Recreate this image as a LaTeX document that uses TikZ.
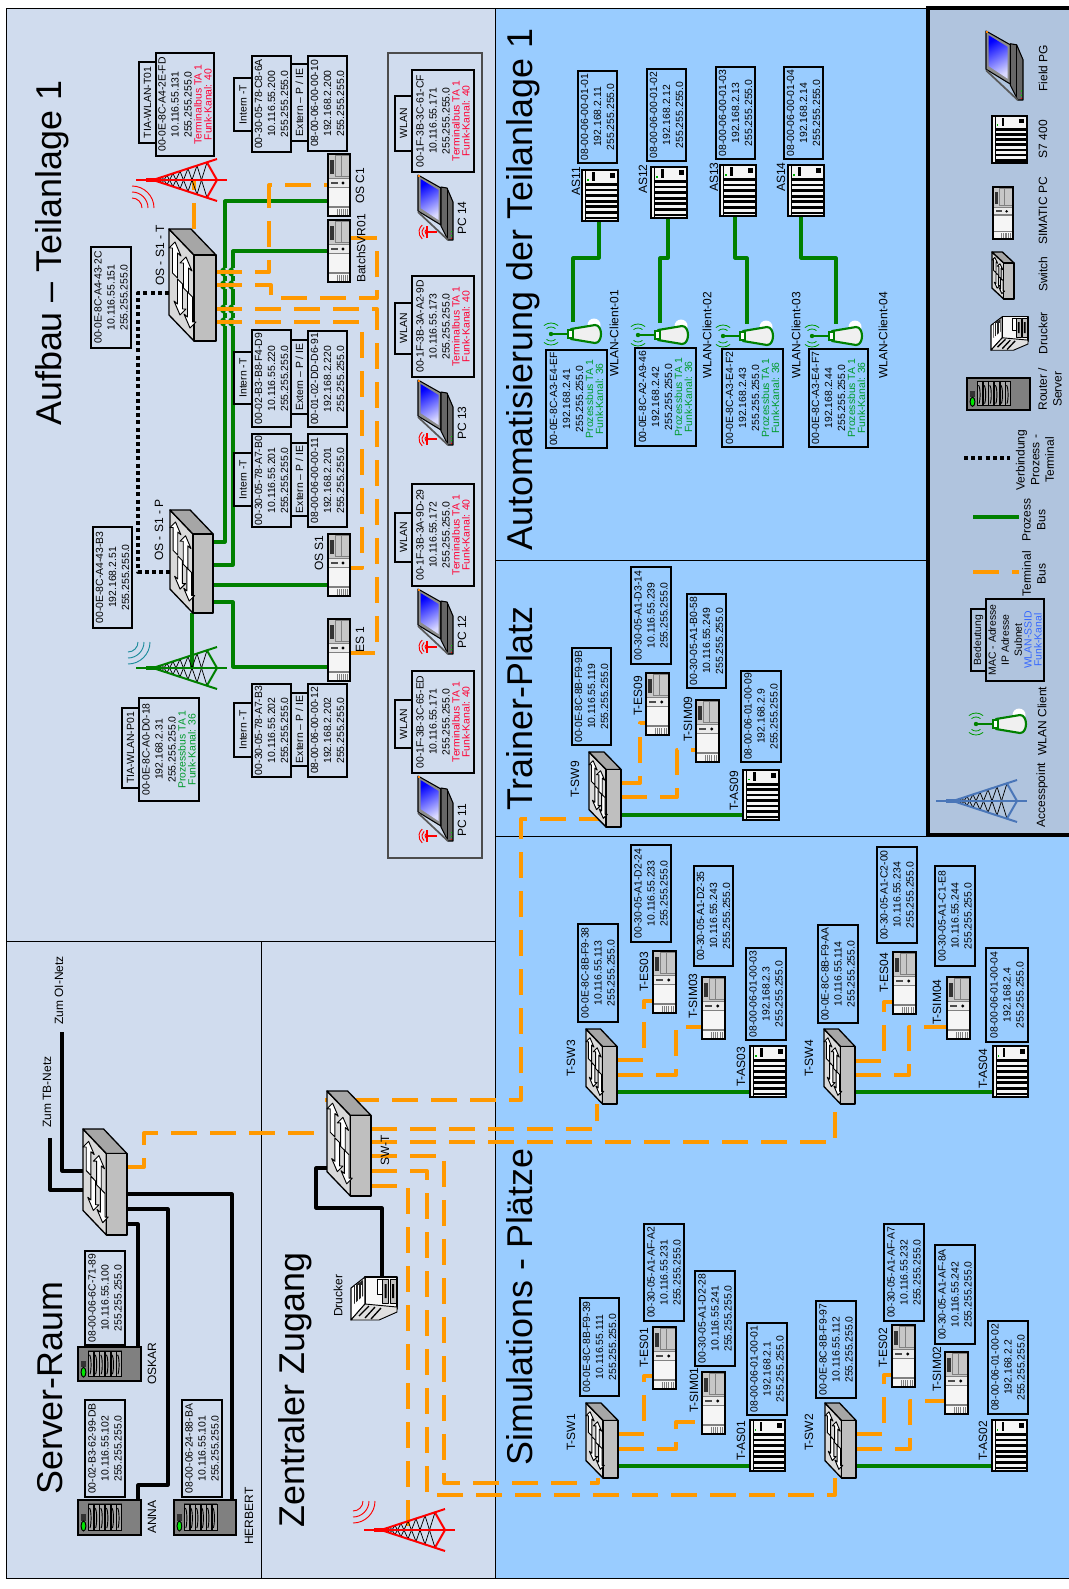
\documentclass[tikz,border=0pt]{standalone}
\usepackage{fontspec}
\setmainfont{Liberation Sans}
\pgfdeclarelayer{bg}
\pgfdeclarelayer{lines}
\pgfsetlayers{bg,lines,main}
\definecolor{panelL}{HTML}{D0DCEE}
\definecolor{panelB}{HTML}{99CCFF}
\definecolor{panelG}{HTML}{B0C4DE}
\definecolor{orbus}{HTML}{FF9900}
\definecolor{grbus}{HTML}{008000}
\definecolor{termred}{HTML}{FF0033}
\definecolor{procgreen}{HTML}{009A2A}
\definecolor{ssidblue}{HTML}{3366FF}
\definecolor{wavet}{HTML}{1C8C9C}
\definecolor{steel}{HTML}{4A76B8}
\tikzset{
 x=0.75pt,y=-0.75pt,
 panel/.style={draw=black,line width=0.75pt},
 ibox/.style={rotate=90,draw=black,line width=1.1pt,inner sep=0pt,align=center,font=\fontsize{7.8}{9.75}\selectfont},
 lbl/.style={rotate=90,anchor=west,inner sep=0pt,font=\fontsize{9}{10.8}\selectfont},
 leg/.style={rotate=90,anchor=center,inner sep=0pt,align=center,font=\fontsize{9}{11}\selectfont},
 titletext/.style={rotate=90,anchor=base west,inner sep=0pt,font=\fontsize{26.9}{30}\selectfont},
 anc/.style={rectangle,inner sep=0pt,outer sep=0pt,anchor=north west},
 pb/.style={draw=grbus,line width=2.4pt,line join=round},
 pbthin/.style={draw=grbus,line width=2.2pt},
 tb/.style={draw=orbus,line width=3pt,line join=round,dash pattern=on 19.5pt off 9.75pt},
 bk/.style={draw=black,line width=2.4pt,line join=round},
 vb/.style={draw=black,line width=3pt,line join=round,dash pattern=on 3pt off 2.4pt},
}
\newcommand{\ibx}[6]{\node[ibox,minimum width={(#5-#3)*0.75pt},minimum height={(#4-#2)*0.75pt}] (#1) at ({(#2+#4)/2},{(#3+#5)/2}) {#6};}
\newcommand{\lb}[4]{\node[lbl] (#1) at (#2,#3) {#4};}
\newcommand{\TBL}{\\[-2.3pt]\textcolor{termred}{Terminalbus TA 1}\\[-2.3pt]\textcolor{termred}{Funk-Kanal: 40}}
\newcommand{\PBL}{\\[-2.3pt]\textcolor{procgreen}{Prozessbus TA 1}\\[-2.3pt]\textcolor{procgreen}{Funk-Kanal: 36}}
% switch: name,x,y,w,h
\newcommand{\swarr}[3]{\begin{scope}[shift={(#1,#2)},xscale=#3,yscale=#3]
 \draw[fill=white,line width=0.7pt,line join=round] (0,0)--(6,14)--(2.5,11)--(2.5,36)--(-2.5,31)--(-2.5,6)--(-6,6)--cycle;\end{scope}}
\newcommand{\swicon}[5]{\node[anc,minimum width={#4*0.75pt},minimum height={#5*0.75pt}] (#1) at (#2,#3) {};
 \begin{scope}[shift={(#2,#3)},xscale={#4/47},yscale={#5/112},line width=1pt,line join=round]
 \draw[fill=black!15] (0,0)--(25,26)--(25,112)--(0,86)--cycle;
 \draw[fill=black!35] (0,0)--(22,0)--(47,26)--(25,26)--cycle;
 \draw[fill=black!25] (25,26)--(47,26)--(47,112)--(25,112)--cycle;
 \swarr{6}{13}{1}\swarr{17}{28}{1}\swarr{11}{86}{-1}\swarr{21}{99}{-1}
 \end{scope}}
% simatic pc
\newcommand{\pcicon}[5]{\node[anc,minimum width={#4*0.75pt},minimum height={#5*0.75pt}] (#1) at (#2,#3) {};
 \begin{scope}[shift={(#2,#3)},xscale={#4/22},yscale={#5/62}]
 \fill[black!22] (0,0) rectangle (22,24);
 \draw[black!50,line width=0.5pt] (13,1)--(13,23);\draw[black!50,line width=0.5pt] (7,1) rectangle (21,22);
 \fill[black!80] (2,6) rectangle (6,20);
 \fill[black!8] (0,24) rectangle (22,34);
 \draw[black!50,line width=1pt] (0,24.5)--(22,24.5) (0,33.5)--(22,33.5);
 \fill[black] (15,29) circle (1.6);\fill[black!70] (3,28) rectangle (10,30);
 \fill[black!4] (0,34) rectangle (22,62);
 \draw[black!50,line width=1pt] (0,53)--(22,53);
 \foreach \q in {9,11,...,19}{\draw[black!50,line width=0.4pt] (\q,55)--(\q,61);}
 \draw[black,line width=0.9pt] (0,0) rectangle (22,62);
 \end{scope}}
% S7 rack
\newcommand{\rackicon}[5]{\node[anc,minimum width={#4*0.75pt},minimum height={#5*0.75pt}] (#1) at (#2,#3) {};
 \begin{scope}[shift={(#2,#3)},xscale={#4/36},yscale={#5/51}]
 \fill[black!4] (0,0) rectangle (36,51);
 \fill[black] (10,2) rectangle (12.5,11);\fill[black] (28,3) rectangle (33,8);
 \fill[green!70!black] (5,9) rectangle (6.5,10.5);
 \foreach \q in {0,...,6}{\fill[black] (3,{13+\q*5.6}) rectangle (36,{15.8+\q*5.6});}
 \fill[black] (0,0) rectangle (1,51);\fill[black] (2.6,0) rectangle (3.8,51);
 \draw[black,line width=1.1pt] (0,0) rectangle (36,51);
 \end{scope}}
% server
\newcommand{\srvicon}[5]{\node[anc,minimum width={#4*0.75pt},minimum height={#5*0.75pt}] (#1) at (#2,#3) {};
 \begin{scope}[shift={(#2,#3)},xscale={#4/63},yscale={#5/35}]
 \draw[black,fill=black!50,line width=0.9pt] (0,0) rectangle (63,35);
 \fill[black!70] (10,3) rectangle (44,31);
 \foreach \q in {0,...,5}{\draw[black,fill=black!35,line width=0.4pt] ({10.5+\q*5.6},4) rectangle ({15.5+\q*5.6},30);
   \draw[black,line width=0.7pt] ({11.5+\q*5.6},8) .. controls ({13.5+\q*5.6},10) and ({13.5+\q*5.6},24) .. ({12+\q*5.6},28);}
 \fill[black!80] (3,14) rectangle (8,21);
 \draw[black,fill=green!90!black,line width=0.7pt] (5.5,26) ellipse (2.4 and 5);
 \end{scope}}
% laptop
\newcommand{\lapicon}[5]{\node[anc,minimum width={#4*0.75pt},minimum height={#5*0.75pt}] (#1) at (#2,#3) {};
 \begin{scope}[shift={(#2,#3)},xscale={#4/35},yscale={#5/65},line join=round]
 \draw[black,fill=black!45,line width=0.8pt] (0,0)--(23,13)--(23,50)--(0,36)--cycle;
 \draw[black,fill=black!60,line width=0.8pt] (23,12)--(29,13)--(35,27)--(35,65)--(30,65)--(23,51)--cycle;
 \draw[black,line width=0.6pt] (29,13)--(29,64);
 \shade[top color=blue,bottom color=blue!15!white,shading angle=30] (2.5,4)--(20.5,15)--(20.5,45)--(2.5,33)--cycle;
 \draw[black!65,line width=1.3pt] (0,37)--(30,65);
 \fill[orange] (0,0) rectangle (2,2);
 \fill[green!80!black] (33,56) rectangle (34,57) (33,60) rectangle (34,61);
 \fill[red] (33,63) rectangle (34,64);
 \end{scope}}
% printer
\newcommand{\prticon}[5]{\node[anc,minimum width={#4*0.75pt},minimum height={#5*0.75pt}] (#1) at (#2,#3) {};
 \begin{scope}[shift={(#2,#3)},xscale={#4/46},yscale={#5/45},line join=round]
 \draw[black,fill=black!3,line width=0.8pt] (14,1) rectangle (46,33);
 \draw[black,fill=black!25,line width=0.6pt] (31,3) rectangle (37.5,27);
 \draw[black,fill=black!25,line width=0.6pt] (39,3) rectangle (45,27);
 \draw[black,fill=white,line width=0.5pt] (26,3) rectangle (31,18);
 \fill[black] (33.5,8) rectangle (35.5,22) (41,8) rectangle (43,22);
 \draw[black,fill=white,line width=0.8pt] (0,12)--(14,1)--(14,28)--(0,44)--cycle;
 \fill[black!85] (3,10)--(12,4)--(12,20)--(3,28)--cycle;
 \foreach \q in {4,7,10}{\draw[white,line width=0.3pt] (\q,9)--(\q,27);}
 \draw[black,fill=black!12,line width=0.7pt] (0,44)--(14,28)--(46,31)--(46,36)--(28,44)--cycle;
 \draw[black,line width=1pt] (8,40)--(18,30) (14,42)--(24,31) (20,43)--(30,32);
 \end{scope}}
% tower
\newcommand{\toweric}[4]{\node[rectangle,inner sep=0pt,minimum width={91*0.75pt},minimum height={42*0.75pt},anchor=center] (#1) at ({#2+45.5},#3) {};
 \begin{scope}[shift={(#2,#3)},line join=round]
 \foreach \a/\b in {19/22,22/26,26/31,31/37,37/44,44/52,52/61,61/71}{
  \draw[black,line width=0.55pt] (\a,{(\a-17)*0.328})--(\b,{-(\b-17)*0.328});
  \draw[black,line width=0.55pt] (\a,{-(\a-17)*0.328})--(\b,{(\b-17)*0.328});}
 \draw[#4,line width=1.5pt] (0,0)--(91,0);
 \draw[#4,line width=1.5pt] (81,-21)--(17,0)--(81,21);
 \draw[#4,line width=1.5pt] (71,-17.5)--(81,0)--(71,17.5);
 \draw[#4,line width=3pt] (10,0)--(20,0);
 \end{scope}}
% wlan client
\newcommand{\clienticon}[3]{\node[rectangle,inner sep=0pt,minimum width={50*0.75pt},minimum height={24*0.75pt},anchor=west] (#1) at (#2,#3) {};
 \begin{scope}[shift={(#2,#3)}]
 \fill[white] (43,-9) circle (6.5);
 \draw[grbus,line width=1.6pt,fill=black!6,line join=round] (20,-5)--(44,-9) .. controls (52,-9) and (52,9) .. (44,9)--(20,5)--cycle;
 \draw[grbus,line width=1.6pt,fill=white] (17,-4) rectangle (22,4);
 \draw[grbus,line width=1.4pt] (0,0)--(17,0);
 \fill[grbus] (0,0) circle (2.2);
 \foreach \r in {7,11}{\draw[green!60!black,line width=0.6pt] (-50:\r) arc (-50:-130:\r);\draw[green!60!black,line width=0.6pt] (50:\r) arc (50:130:\r);}
 \end{scope}}
\newcommand{\redant}[3]{\coordinate (#1) at (#2,#3);
 \begin{scope}[shift={(#2,#3)}]
 \draw[red,line width=1pt] (0,0)--(-10,0);\draw[red,line width=1pt] (-10,-6)--(-10,6);
 \foreach \r in {3,6,9}{\draw[red,line width=0.7pt] ({-9+\r*cos(130)},{\r*sin(130)}) arc (130:230:\r);}
 \end{scope}}
\newcommand{\wavesr}[4]{\coordinate (#1) at (#2,#3);\foreach \r in {10,16,22}{\draw[#4,line width=0.7pt] (#2,{#3-\r}) arc (-90:0:\r);}}
\newcommand{\wavesb}[4]{\coordinate (#1) at (#2,#3);\foreach \r in {10,16,22}{\draw[#4,line width=0.7pt] ({#2+\r},#3) arc (0:90:\r);}}
\begin{document}
\begin{tikzpicture}
\useasboundingbox (0,0) rectangle (1069,1589);
\begin{pgfonlayer}{bg}
\fill[white] (0,0) rectangle (1069,1589);
\draw[panel,fill=panelL] (6,8) rectangle (495,941);
\draw[panel,fill=panelL] (6,941) rectangle (261,1578);
\draw[panel,fill=panelL] (261,941) rectangle (495,1578);
\draw[panel,fill=panelB] (495,8) rectangle (928,560);
\draw[panel,fill=panelB] (495,560) rectangle (928,836);
\draw[panel,fill=panelB] (495,836) rectangle (1069,1578);
\draw[draw=black!70,line width=1pt] (388,53) rectangle (482,858);
\fill[panelG] (928,8) rectangle (1069,835);
\draw[black,line width=2.6pt] (1069,8)--(928,8)--(928,835)--(1069,835);
\end{pgfonlayer}

% titles
\node[titletext] (tA) at (61,426) {Aufbau – Teilanlage 1};
\node[titletext] (tS) at (62,1495) {Server-Raum};
\node[titletext] (tZ) at (304,1528) {Zentraler Zugang};
\node[titletext] (tU) at (532,551) {Automatisierung der Teilanlage 1};
\node[titletext] (tT) at (532,811) {Trainer-Platz};
\node[titletext] (tP) at (532,1466) {Simulations - Plätze};

% switches
\swicon{osT}{169}{229}{47}{112}
\swicon{osP}{170}{510}{43}{103}
\swicon{srvSw}{83}{1129}{44}{106}
\swicon{swT}{327}{1091}{44}{105}
\swicon{tsw9}{589}{752}{32}{75}
\swicon{tsw3}{586}{1029}{31}{75}
\swicon{tsw4}{824}{1029}{31}{75}
\swicon{tsw1}{586}{1403}{32}{75}
\swicon{tsw2}{825}{1403}{31}{75}
\swicon{legSw}{992}{252}{22}{47}
% PCs
\pcicon{osC1}{328}{154}{22}{62}
\pcicon{batch}{328}{220}{22}{62}
\pcicon{osS1}{328}{534}{22}{62}
\pcicon{es1}{328}{619}{22}{62}
\pcicon{tes9}{646}{673}{23}{62}
\pcicon{tsim9}{696}{700}{23}{62}
\pcicon{tes3}{653}{951}{23}{62}
\pcicon{tsim3}{702}{977}{23}{62}
\pcicon{tes4}{893}{952}{23}{62}
\pcicon{tsim4}{947}{977}{23}{62}
\pcicon{tes1}{653}{1327}{23}{62}
\pcicon{tsim1}{702}{1372}{23}{62}
\pcicon{tes2}{892}{1325}{23}{62}
\pcicon{tsim2}{945}{1352}{23}{62}
\pcicon{legPc}{993}{187}{20}{52}
% racks
\rackicon{as11}{582}{170}{36}{51}
\rackicon{as12}{651}{167}{36}{51}
\rackicon{as13}{720}{165}{36}{51}
\rackicon{as14}{788}{165}{36}{51}
\rackicon{tas9}{743}{770}{36}{50}
\rackicon{tas3}{750}{1046}{36}{51}
\rackicon{tas4}{993}{1046}{35}{51}
\rackicon{tas1}{750}{1420}{35}{51}
\rackicon{tas2}{992}{1420}{35}{51}
\rackicon{legAs}{992}{116}{35}{47}
% servers
\srvicon{oskar}{78}{1347}{63}{34}
\srvicon{anna}{78}{1500}{63}{35}
\srvicon{herbert}{174}{1500}{62}{35}
\srvicon{legSrv}{967}{378}{63}{32}
% laptops
\lapicon{pc14}{418}{175}{35}{65}
\lapicon{pc13}{418}{380}{35}{65}
\lapicon{pc12}{418}{589}{35}{65}
\lapicon{pc11}{418}{776}{35}{65}
\lapicon{legPg}{986}{31}{37}{69}
\redant{a14}{437}{232}
\redant{a13}{437}{439}
\redant{a12}{437}{647}
\redant{a11}{437}{836}
% printers
\prticon{drucker}{351}{1276}{46}{45}
\prticon{legPr}{991}{316}{37}{35}
% towers
\toweric{towT}{136}{180}{red}
\toweric{towP}{136}{668}{grbus}
\toweric{towZ}{364}{1530}{red}
\toweric{legTow}{936}{801}{steel}
\wavesr{wT}{132}{208}{red}
\wavesb{wP}{128}{642}{wavet}
\wavesb{wZ}{353}{1501}{red}
% clients
\clienticon{cl1}{551}{334}
\clienticon{cl2}{638}{335}
\clienticon{cl3}{723}{336}
\clienticon{cl4}{812}{336}
\clienticon{legCl}{976}{724}

% boxes Aufbau
\ibx{bT1t}{139}{62}{156}{143}{TIA-WLAN-T01}
\ibx{bT1}{156}{53}{214}{156}{00-0E-8C-A4-2E-FD\\10.116.55.131\\255.255.255.0\TBL}
\ibx{b2c}{91}{247}{131}{348}{00-0E-8C-A4-43-2C\\10.116.55.151\\255.255.255.0}
\ibx{bi1t}{234}{78}{252}{131}{Intern -T}
\ibx{bi1}{252}{56}{291}{152}{00-30-05-78-C8-6A\\10.116.55.200\\255.255.255.0}
\ibx{be1t}{291}{64}{308}{141}{Extern – P / IE}
\ibx{be1}{308}{56}{347}{151}{08-00-06-00-00-10\\192.168.2.200\\255.255.255.0}
\ibx{bi2t}{234}{352}{252}{404}{Intern -T}
\ibx{bi2}{252}{330}{291}{427}{00-02-B3-B8-F4-D9\\10.116.55.220\\255.255.255.0}
\ibx{be2t}{291}{340}{308}{414}{Extern – P / IE}
\ibx{be2}{308}{331}{347}{427}{00-01-02-DD-D6-91\\192.168.2.220\\255.255.255.0}
\ibx{bi3t}{234}{453}{252}{506}{Intern -T}
\ibx{bi3}{252}{434}{291}{527}{00-30-05-78-A7-B0\\10.116.55.201\\255.255.255.0}
\ibx{be3t}{291}{443}{308}{516}{Extern – P / IE}
\ibx{be3}{308}{434}{347}{527}{08-00-06-00-00-11\\192.168.2.201\\255.255.255.0}
\ibx{bi4t}{234}{703}{252}{757}{Intern -T}
\ibx{bi4}{252}{684}{291}{777}{00-30-05-78-A7-B3\\10.116.55.202\\255.255.255.0}
\ibx{be4t}{291}{693}{308}{766}{Extern – P / IE}
\ibx{be4}{308}{684}{347}{777}{08-00-06-00-00-12\\192.168.2.202\\255.255.255.0}
\ibx{bb3}{93}{527}{132}{628}{00-0E-8C-A4-43-B3\\192.168.2.51\\255.255.255.0}
\ibx{bP1t}{122}{708}{139}{788}{TIA-WLAN-P01}
\ibx{bP1}{139}{698}{199}{801}{00-0E-8C-A0-D0-18\\192.168.2.31\\255.255.255.0\PBL}
\ibx{w14t}{395}{96}{412}{151}{WLAN}
\ibx{w14}{412}{70}{474}{172}{00-1F-3B-3C-61-CF\\10.116.55.171\\255.255.255.0\TBL}
\ibx{w13t}{395}{303}{412}{354}{WLAN}
\ibx{w13}{412}{276}{474}{377}{00-1F-3B-3A-A2-9D\\10.116.55.173\\255.255.255.0\TBL}
\ibx{w12t}{395}{513}{412}{562}{WLAN}
\ibx{w12}{412}{484}{474}{586}{00-1F-3B-3A-9D-29\\10.116.55.172\\255.255.255.0\TBL}
\ibx{w11t}{395}{700}{412}{748}{WLAN}
\ibx{w11}{412}{671}{474}{773}{00-1F-3B-3C-65-ED\\10.116.55.171\\255.255.255.0\TBL}
% Automatisierung
\ibx{bAs1}{578}{71}{617}{163}{08-00-06-00-01-01\\192.168.2.11\\255.255.255.0}
\ibx{bAs2}{647}{69}{686}{161}{08-00-06-00-01-02\\192.168.2.12\\255.255.255.0}
\ibx{bAs3}{716}{67}{755}{159}{08-00-06-00-01-03\\192.168.2.13\\255.255.255.0}
\ibx{bAs4}{784}{67}{823}{159}{08-00-06-00-01-04\\192.168.2.14\\255.255.255.0}
\ibx{bCl1}{546}{350}{607}{448}{00-0E-8C-A3-E4-EF\\192.168.2.41\\255.255.255.0\PBL}
\ibx{bCl2}{635}{348}{696}{446}{00-0E-8C-A2-A9-46\\192.168.2.42\\255.255.255.0\PBL}
\ibx{bCl3}{722}{349}{783}{447}{00-0E-8C-A3-E4-F2\\192.168.2.43\\255.255.255.0\PBL}
\ibx{bCl4}{809}{349}{868}{447}{00-0E-8C-A3-E4-F7\\192.168.2.44\\255.255.255.0\PBL}
% Trainer
\ibx{bSw9}{572}{648}{611}{745}{00-0E-8C-8B-F9-9B\\10.116.55.119\\255.255.255.0}
\ibx{bEs9}{631}{567}{671}{664}{00-30-05-A1-D3-14\\10.116.55.239\\255.255.255.0}
\ibx{bSi9}{687}{594}{726}{688}{00-30-05-A1-B0-58\\10.116.55.249\\255.255.255.0}
\ibx{bTa9}{741}{671}{781}{762}{08-00-06-01-00-09\\192.168.2.9\\255.255.255.0}
% Sim 3,4
\ibx{bSw3}{578}{924}{618}{1022}{00-0E-8C-8B-F9-38\\10.116.55.113\\255.255.255.0}
\ibx{bEs3}{631}{845}{671}{942}{00-30-05-A1-D2-24\\10.116.55.233\\255.255.255.0}
\ibx{bSi3}{694}{866}{733}{966}{00-30-05-A1-D2-35\\10.116.55.243\\255.255.255.0}
\ibx{bTa3}{746}{948}{786}{1040}{08-00-06-01-00-03\\192.168.2.3\\255.255.255.0}
\ibx{bSw4}{818}{925}{858}{1023}{00-0E-8C-8B-F9-AA\\10.116.55.114\\255.255.255.0}
\ibx{bEs4}{877}{847}{917}{943}{00-30-05-A1-C2-00\\10.116.55.234\\255.255.255.0}
\ibx{bSi4}{935}{866}{975}{966}{00-30-05-A1-C1-E8\\10.116.55.244\\255.255.255.0}
\ibx{bTa4}{986}{948}{1028}{1042}{08-00-06-01-00-04\\192.168.2.4\\255.255.255.0}
% Sim 1,2
\ibx{bSw1}{580}{1298}{619}{1396}{00-0E-8C-8B-F9-39\\10.116.55.111\\255.255.255.0}
\ibx{bEs1}{644}{1224}{684}{1321}{00-30-05-A1-AF-A2\\10.116.55.231\\255.255.255.0}
\ibx{bSi1}{695}{1271}{735}{1366}{00-30-05-A1-D2-28\\10.116.55.241\\255.255.255.0}
\ibx{bTa1}{747}{1323}{787}{1415}{08-00-06-01-00-01\\192.168.2.1\\255.255.255.0}
\ibx{bSw2}{816}{1301}{856}{1398}{00-0E-8C-8B-F9-97\\10.116.55.112\\255.255.255.0}
\ibx{bEs2}{884}{1224}{924}{1321}{00-30-05-A1-AF-A7\\10.116.55.232\\255.255.255.0}
\ibx{bSi2}{935}{1245}{975}{1344}{00-30-05-A1-AF-8A\\10.116.55.242\\255.255.255.0}
\ibx{bTa2}{988}{1321}{1028}{1414}{08-00-06-01-00-02\\192.168.2.2\\255.255.255.0}
% Server
\ibx{bOsk}{85}{1251}{125}{1345}{08-00-06-6C-71-89\\10.116.55.100\\255.255.255.0}
\ibx{bAnn}{85}{1400}{125}{1497}{00-02-B3-62-99-DB\\10.116.55.102\\255.255.255.0}
\ibx{bHer}{182}{1400}{222}{1497}{08-00-06-24-88-BA\\10.116.55.101\\255.255.255.0}
% legend box
\ibx{bLegT}{971}{609}{986}{671}{Bedeutung}
\ibx{bLeg}{986}{599}{1044}{681}{MAC - Adresse\\IP Adresse\\Subnet\\[-2.3pt]\textcolor{ssidblue}{WLAN-SSID}\\[-2.3pt]\textcolor{ssidblue}{Funk-Kanal}}

% labels
\lb{lOskar}{152}{1385}{OSKAR}
\lb{lAnna}{152}{1534}{ANNA}
\lb{lHerb}{249}{1545}{HERBERT}
\lb{lTB}{47}{1128}{Zum TB-Netz}
\lb{lOI}{59}{1025}{Zum OI-Netz}
\lb{lDr}{338}{1317}{Drucker}
\lb{lSWT}{385}{1166}{SW-T}
\lb{lOST}{160}{286}{OS - S1 - T}
\lb{lOSP}{159}{561}{OS - S1 - P}
\lb{lC1}{360}{204}{OS C1}
\lb{lBat}{361}{283}{BatchSVR01}
\lb{lS1}{319}{571}{OS S1}
\lb{lE1}{360}{653}{ES 1}
\lb{lP14}{462}{235}{PC 14}
\lb{lP13}{462}{440}{PC 13}
\lb{lP12}{462}{649}{PC 12}
\lb{lP11}{462}{837}{PC 11}
\lb{lA11}{576}{196}{AS11}
\lb{lA12}{643}{194}{AS12}
\lb{lA13}{714}{192}{AS13}
\lb{lA14}{781}{192}{AS14}
\lb{lW1}{614}{377}{WLAN-Client-01}
\lb{lW2}{707}{379}{WLAN-Client-02}
\lb{lW3}{796}{379}{WLAN-Client-03}
\lb{lW4}{883}{379}{WLAN-Client-04}
\lb{lS9}{575}{798}{T-SW9}
\lb{lE9}{638}{716}{T-ES09}
\lb{lI9}{688}{742}{T-SIM09}
\lb{lT9}{734}{811}{T-AS09}
\lb{lS3}{571}{1077}{T-SW3}
\lb{lE3}{644}{992}{T-ES03}
\lb{lI3}{693}{1019}{T-SIM03}
\lb{lT3}{741}{1087}{T-AS03}
\lb{lS4}{809}{1077}{T-SW4}
\lb{lE4}{884}{993}{T-ES04}
\lb{lI4}{937}{1025}{T-SIM04}
\lb{lT4}{983}{1089}{T-AS04}
\lb{lS1b}{571}{1451}{T-SW1}
\lb{lE1b}{644}{1368}{T-ES01}
\lb{lI1}{694}{1413}{T-SIM01}
\lb{lT1}{741}{1461}{T-AS01}
\lb{lS2}{809}{1451}{T-SW2}
\lb{lE2}{883}{1368}{T-ES02}
\lb{lI2}{937}{1392}{T-SIM02}
\lb{lT2}{983}{1461}{T-AS02}
% legend labels
\node[leg] (gAp) at (1042,795) {Accesspoint};
\node[leg] (gWc) at (1042,721) {WLAN Client};
\node[leg] (gTb) at (1034,574) {Terminal\\Bus};
\node[leg] (gPb) at (1034,520) {Prozess\\Bus};
\node[leg] (gVb) at (1035,460) {Verbindung\\Prozess -\\Terminal};
\node[leg] (gRs) at (1050,389) {Router /\\Server};
\node[leg] (gDr) at (1043,333) {Drucker};
\node[leg] (gSw) at (1043,274) {Switch};
\node[leg] (gPc) at (1043,211) {SIMATIC PC};
\node[leg] (gS7) at (1043,139) {S7 400};
\node[leg] (gFp) at (1043,68) {Field PG};
\coordinate (sTa) at (973,572);\coordinate (sTb) at (1019,572);
\coordinate (sPa) at (973,517);\coordinate (sPb) at (1019,517);
\coordinate (sVa) at (964,458);\coordinate (sVb) at (1010,458);
\coordinate (eTB) at (50,1138);\coordinate (eOI) at (62,1032);
\coordinate (swTa) at (325,1100);

\begin{pgfonlayer}{lines}
% process bus
\draw[pb] (osC1.west|-0,201)--(225,201)--(225,542)--(osP.east|-0,542);
\draw[pb] (batch.west|-0,251)--(233,251)--(233,565)--(osP.east|-0,565);
\draw[pb] (osS1.west|-0,585)--(osP.east|-0,585);
\draw[pb] (es1.west|-0,667)--(233,667)--(233,602)--(osP.east|-0,602);
\draw[pb] (192,0|-osP.south)--(192,0|-towP.center);
% bumps
\foreach \yy in {272,285,309,322}{\foreach \xx in {225,233}{
 \fill[panelL] ({\xx-2.5},{\yy-4}) rectangle ({\xx+2.5},{\yy+4});
 \draw[pbthin] (\xx,{\yy+4}) .. controls ({\xx-5},{\yy+2}) and ({\xx-5},{\yy-2}) .. (\xx,{\yy-4});}}
\draw[pb] (599,0|-as11.south)--(599,258)--(573,258)--(573,0|-cl1.north);
\draw[pb] (668,0|-as12.south)--(668,258)--(660,258)--(660,0|-cl2.north);
\draw[pb] (735,0|-as13.south)--(735,258)--(747,258)--(747,0|-cl3.north);
\draw[pb] (801,0|-as14.south)--(801,258)--(836,258)--(836,0|-cl4.north);
\draw[pb] (tsw9.east|-0,815)--(tas9.west|-0,815);
\draw[pb] (tsw3.east|-0,1092)--(tas3.west|-0,1092);
\draw[pb] (tsw4.east|-0,1092)--(tas4.west|-0,1092);
\draw[pb] (tsw1.east|-0,1466)--(tas1.west|-0,1466);
\draw[pb] (tsw2.east|-0,1466)--(tas2.west|-0,1466);
\draw[pb] (sPa)--(sPb);
% black
\draw[vb] (osT.west|-0,293)--(138,293)--(138,572)--(osP.west|-0,572);
\draw[vb] (sVa)--(sVb);
\draw[bk] (eTB)--(50,1190)--(srvSw.west|-0,1190);
\draw[bk] (eOI)--(62,1171)--(srvSw.west|-0,1171);
\draw[bk] (srvSw.east|-0,1224)--(138,1224)--(138,0|-oskar.north);
\draw[bk] (srvSw.east|-0,1209)--(168,1209)--(168,1485)--(138,1485)--(138,0|-anna.north);
\draw[bk] (srvSw.east|-0,1194)--(232,1194)--(232,0|-herbert.north);
\draw[bk] (swT.west|-0,1168)--(316,1168)--(316,1208)--(382,1208)--(382,0|-drucker.north);
% terminal bus
\draw[tb] (194,0|-osT.north)--(194,0|-towT.center);
\draw[tb] (osT.east|-0,272)--(269,272)--(269,185)--(osC1.west|-0,185);
\draw[tb] (osT.east|-0,285)--(271,285)--(271,298)--(377,298)--(377,238)--(batch.east|-0,238);
\draw[tb] (osT.east|-0,309)--(377,309)--(377,653)--(es1.east|-0,653);
\draw[tb] (osT.east|-0,322)--(362,322)--(362,568)--(osS1.east|-0,568);
\draw[tb] (srvSw.east|-0,1167)--(144,1167)--(144,1133)--(swT.west|-0,1133);
\draw[tb,dash phase=8.25pt] (swTa)--(521,1100)--(521,819)--(tsw9.center|-0,819);
\draw[tb] (swT.east|-0,1129)--(597,1129)--(597,0|-tsw3.south);
\draw[tb] (swT.east|-0,1142)--(835,1142)--(835,0|-tsw4.south);
\draw[tb] (swT.east|-0,1156)--(444,1156)--(444,1483)--(598,1483)--(598,0|-tsw1.south);
\draw[tb] (swT.east|-0,1171)--(427,1171)--(427,1495)--(835,1495)--(835,0|-tsw2.south);
\draw[tb] (swT.east|-0,1186)--(408,1186)--(408,0|-towZ.center);
\draw[tb] (tsw9.east|-0,783)--(640,783)--(640,723)--(tes9.west|-0,723);
\draw[tb] (tsw9.east|-0,797)--(677,797)--(677,750)--(tsim9.west|-0,750);
\draw[tb] (tsw3.east|-0,1060)--(644,1060)--(644,1001)--(tes3.west|-0,1001);
\draw[tb] (tsw3.east|-0,1075)--(676,1075)--(676,1027)--(tsim3.west|-0,1027);
\draw[tb] (tsw4.east|-0,1061)--(884,1061)--(884,1002)--(tes4.west|-0,1002);
\draw[tb] (tsw4.east|-0,1075)--(909,1075)--(909,1027)--(tsim4.west|-0,1027);
\draw[tb] (tsw1.east|-0,1434)--(644,1434)--(644,1376)--(tes1.west|-0,1376);
\draw[tb] (tsw1.east|-0,1449)--(676,1449)--(676,1422)--(tsim1.west|-0,1422);
\draw[tb] (tsw2.east|-0,1434)--(884,1434)--(884,1375)--(tes2.west|-0,1375);
\draw[tb] (tsw2.east|-0,1449)--(910,1449)--(910,1401)--(tsim2.west|-0,1401);
\draw[tb] (sTa)--(sTb);
\end{pgfonlayer}
\end{tikzpicture}
\end{document}
